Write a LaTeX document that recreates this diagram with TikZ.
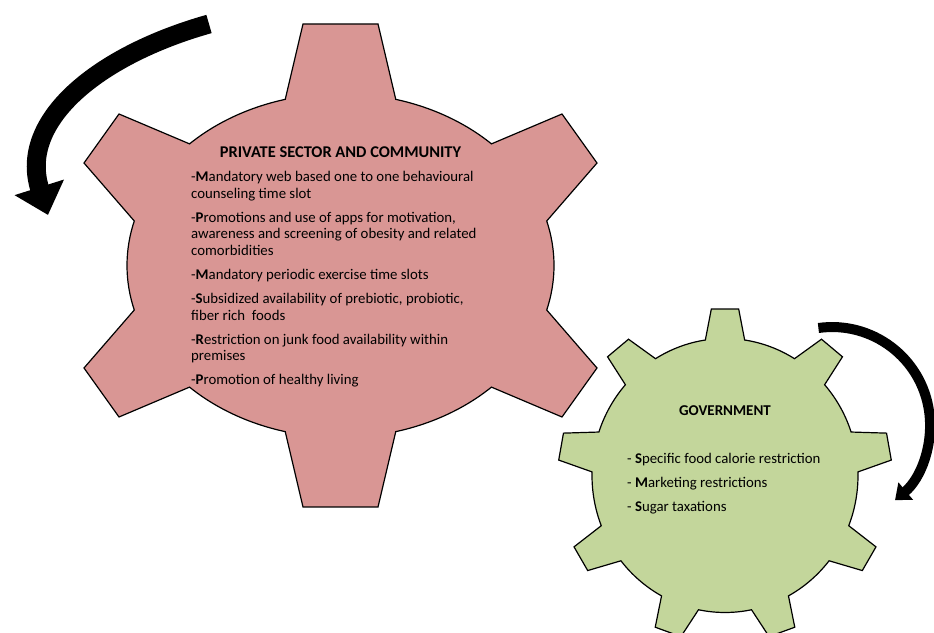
\documentclass[tikz,border=0pt]{standalone}
\usepackage{fontspec}
\setmainfont{Carlito}
\usepackage{xcolor}
\usetikzlibrary{arrows.meta}

\definecolor{cogred}{HTML}{D99694}
\definecolor{coggreen}{HTML}{C3D69B}

\begin{document}
\begin{tikzpicture}[
x=1pt,y=1pt,
cog/.style={draw=black,line width=1.2pt,line join=miter},
redcog/.style={cog,fill=cogred},
greencog/.style={cog,fill=coggreen},
head/.style={font=\bfseries\fontsize{16.4}{18}\selectfont,inner sep=0},
items/.style={font=\fontsize{14.8}{16.7}\selectfont,align=left,inner sep=0,anchor=north west},
bigturn/.style={line width=19pt,-{Triangle[width=50pt,length=29pt]}},
smallturn/.style={line width=10pt,-{Triangle[width=22pt,length=14pt]}}
]
\useasboundingbox (0,0) rectangle (934,632);
\clip (0,0) rectangle (934,632);

\coordinate (privc) at (340.5,366.5);
\coordinate (govc) at (725,156.5);

% six-tooth cog, stretched sideways
\begin{scope}[shift={(privc)}]
\draw[redcog] (75:213.5 and 172) -- (37.5,241.5) -- (-37.5,241.5)
  -- (105:213.5 and 172) arc[start angle=105,end angle=135,x radius=213.5,y radius=172]
  -- (-221.5,151.5) -- (-256.5,102.5)
  -- (165:213.5 and 172) arc[start angle=165,end angle=195,x radius=213.5,y radius=172]
  -- (-256.5,-102.5) -- (-221.5,-151.5)
  -- (225:213.5 and 172) arc[start angle=225,end angle=255,x radius=213.5,y radius=172]
  -- (-37.5,-241.5) -- (37.5,-241.5)
  -- (285:213.5 and 172) arc[start angle=285,end angle=315,x radius=213.5,y radius=172]
  -- (221.5,-151.5) -- (256.5,-102.5)
  -- (345:213.5 and 172) arc[start angle=345,end angle=375,x radius=213.5,y radius=172]
  -- (256.5,102.5) -- (221.5,151.5)
  -- (45:213.5 and 172) arc[start angle=45,end angle=75,x radius=213.5,y radius=172]
  -- cycle;
\end{scope}

% nine-tooth cog
\begin{scope}[shift={(govc)}]
\draw[greencog] (81.5:133 and 137) \foreach \a in {90,130,...,410} {
  -- (\a-4.7:167) -- (\a+4.7:167) -- (\a+8.5:133 and 137)
  arc[start angle=\a+8.5,end angle=\a+31.5,x radius=133,y radius=137]
  } -- cycle;
\end{scope}

% turning arrows
\coordinate (spinA) at (209,608);
\coordinate (spinB) at (818.4,304);
\draw[bigturn] (spinA) .. controls (99,577) and (18,512) .. (48,417);
\draw[smallturn] (spinB) arc[start angle=98,end angle=-50,radius=98];

\node[head] (privtitle) at (340.5,480) {PRIVATE SECTOR AND COMMUNITY};
\node[items] (privlist) at (191,461) {-\textbf{M}andatory web based one to one behavioural\\
counseling time slot\\[7.3pt]
-\textbf{P}romotions and use of apps for motivation,\\
awareness and screening of obesity and related\\
comorbidities\\[7.3pt]
-\textbf{M}andatory periodic exercise time slots\\[7.3pt]
-\textbf{S}ubsidized availability of prebiotic, probiotic,\\
fiber rich\ \ foods\\[7.3pt]
-\textbf{R}estriction on junk food availability within\\
premises\\[7.3pt]
-\textbf{P}romotion of healthy living};

\node[head,font=\bfseries\fontsize{15}{18}\selectfont] (govtitle) at (725,221) {GOVERNMENT};
\node[items,font=\fontsize{14.8}{24}\selectfont] (govlist) at (627,179) {- \textbf{S}pecific food calorie restriction\\
- \textbf{M}arketing restrictions\\
- \textbf{S}ugar taxations};
\end{tikzpicture}
\end{document}
